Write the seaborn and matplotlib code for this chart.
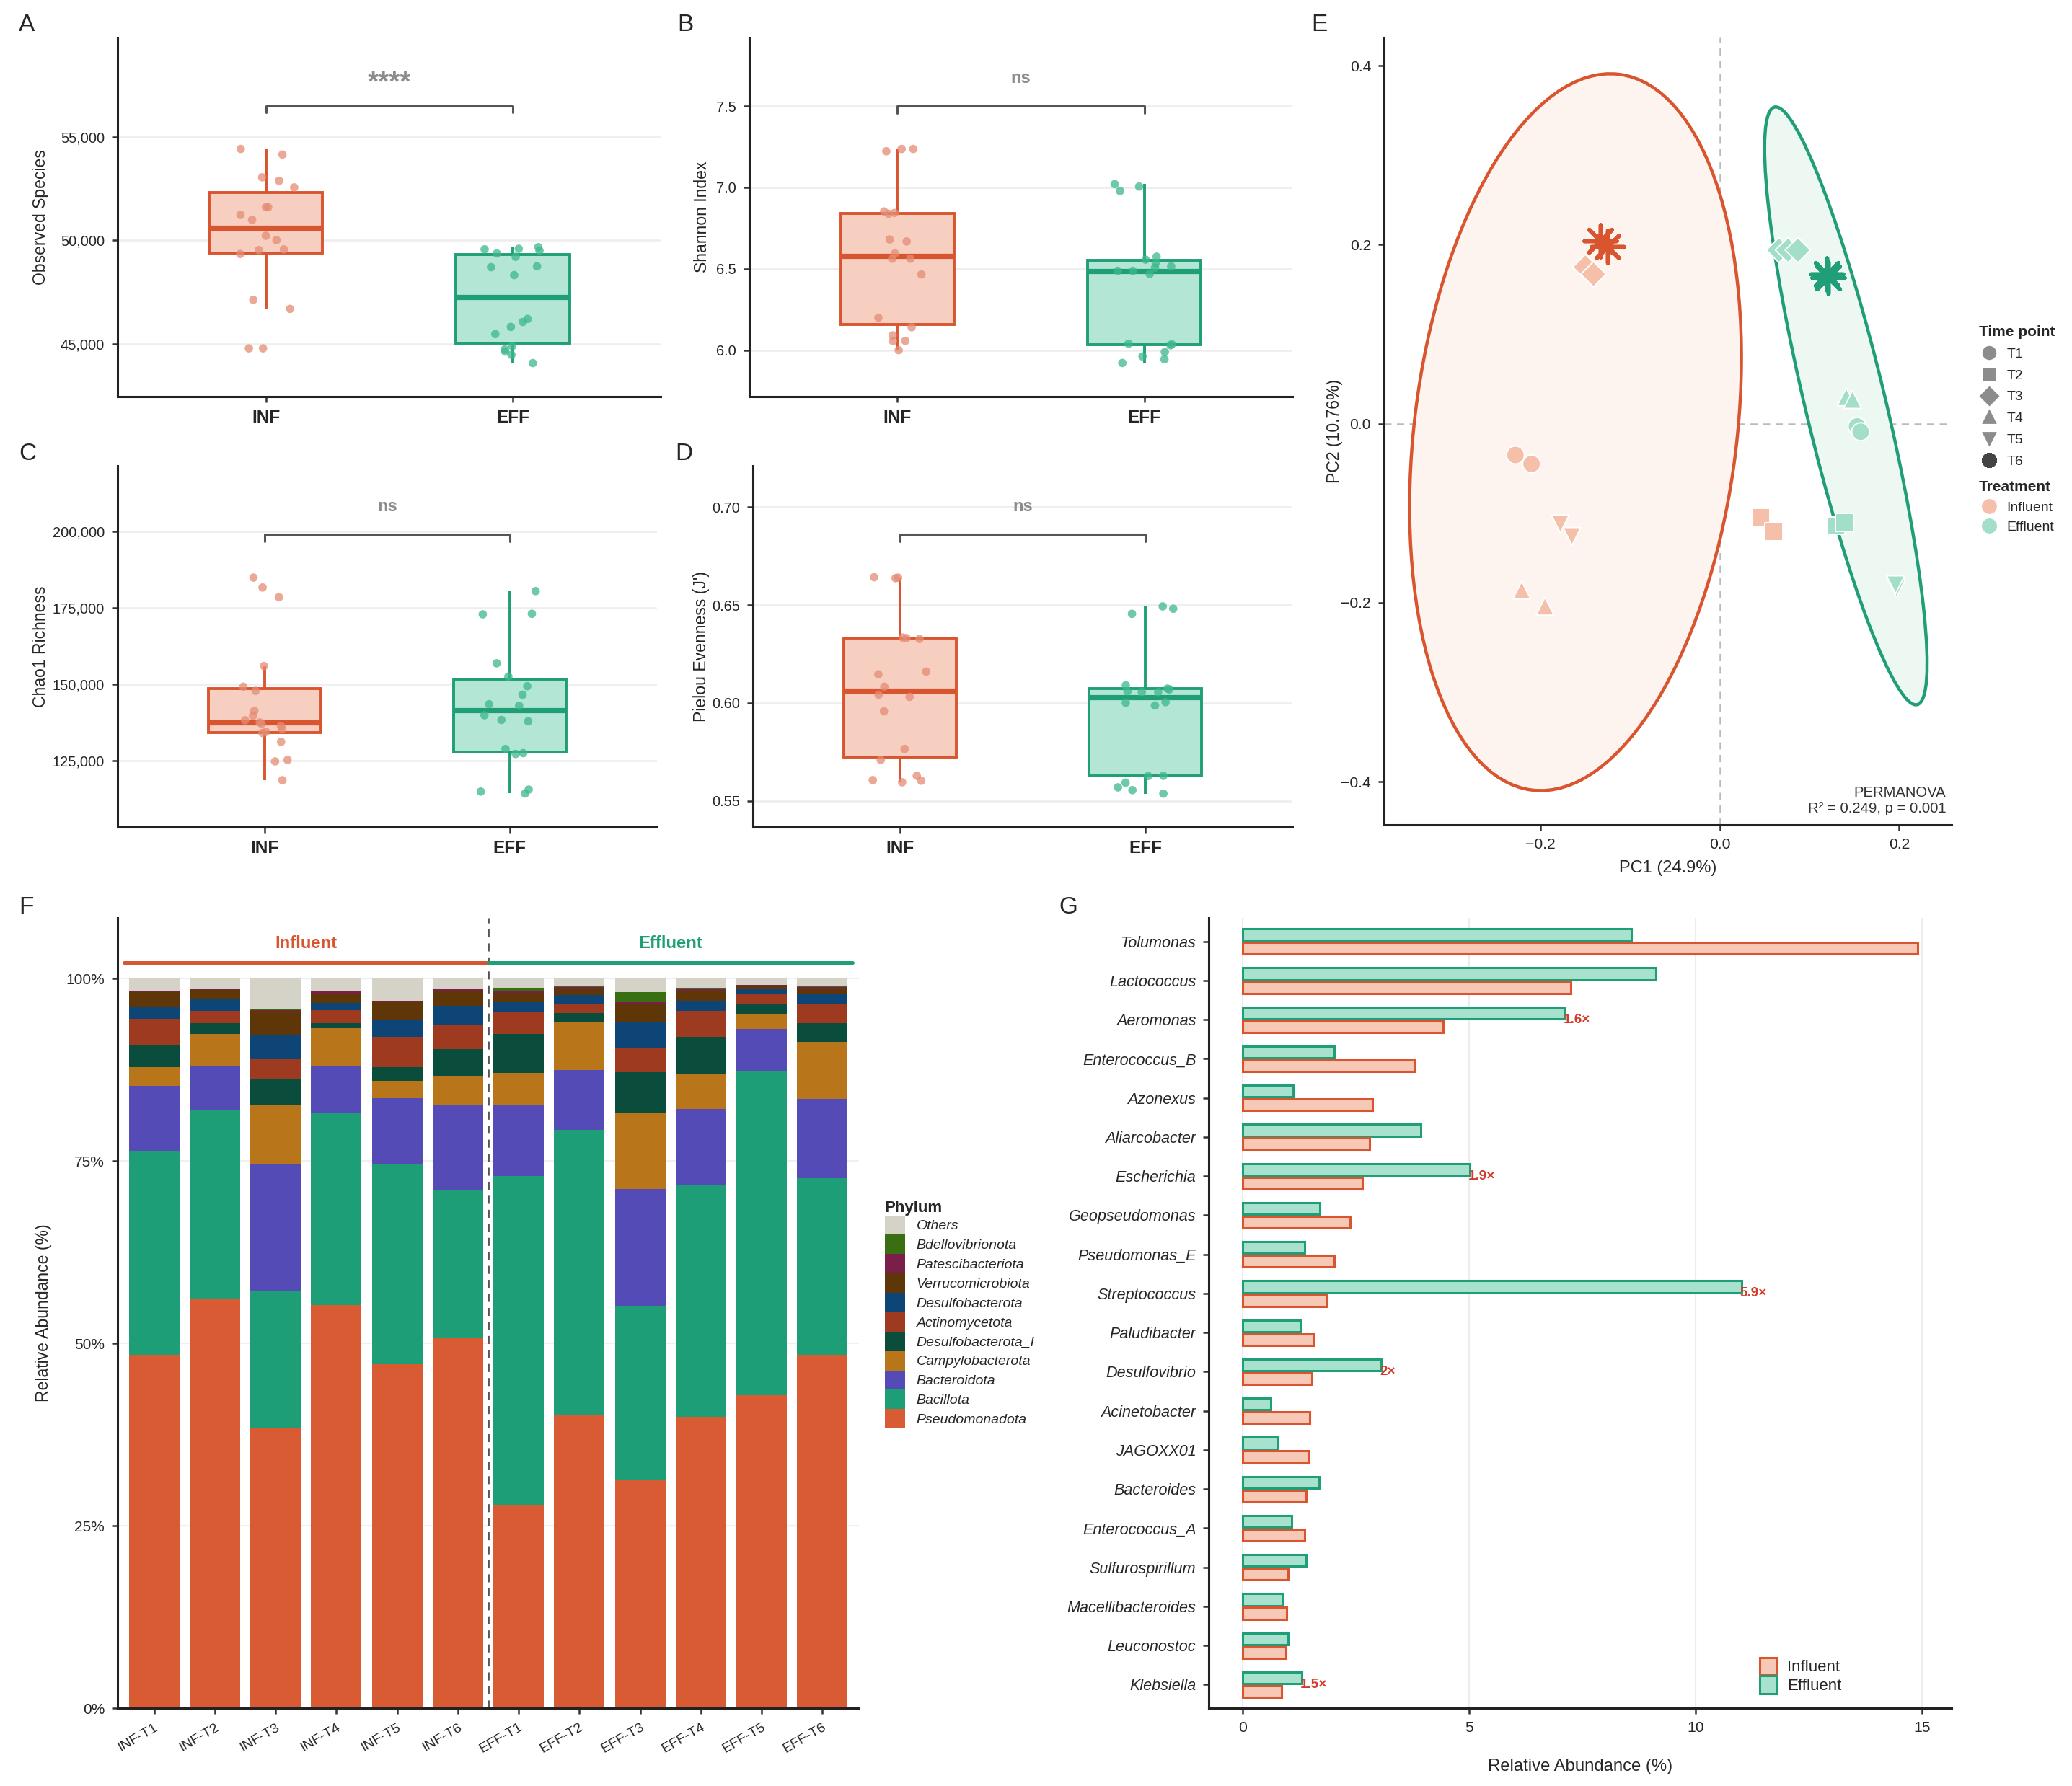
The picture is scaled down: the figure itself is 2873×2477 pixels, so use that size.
import numpy as np
import pandas as pd
import matplotlib
matplotlib.use('Agg')
import matplotlib.pyplot as plt
from matplotlib.patches import Ellipse, Patch
from matplotlib.lines import Line2D
from matplotlib.ticker import FuncFormatter
import seaborn as sns

sns.set_style('ticks')
plt.rcParams['font.family'] = ['Liberation Sans', 'DejaVu Sans']

np.random.seed(7)

# colours
INF_LINE = '#D9552F'
INF_FILL = '#F6CFC0'
INF_PT = '#E58B73'
EFF_LINE = '#1F9E77'
EFF_FILL = '#B3E6D4'
EFF_PT = '#3DB88C'

# ---------------- alpha diversity (A-D) ----------------
groups = ['INF', 'EFF']

observed_inf = [54420, 54150, 53050, 52880, 52560, 51600, 51600, 51230, 50990,
                50220, 50010, 49560, 49530, 49340, 47120, 46680, 44770, 44770]
observed_eff = [49668, 49562, 49589, 49496, 49363, 49204, 48740, 48700, 48316,
                46193, 46048, 45809, 45464, 44881, 44616, 44456, 44721, 44058]

shannon_inf = [7.236, 7.222, 7.236, 6.852, 6.843, 6.838, 6.668, 6.680, 6.594,
               6.562, 6.562, 6.465, 6.199, 6.141, 6.091, 6.056, 6.057, 6.000]
shannon_eff = [7.005, 7.020, 6.978, 6.574, 6.556, 6.535, 6.515, 6.507, 6.487,
               6.487, 6.468, 6.039, 6.036, 6.030, 5.988, 5.961, 5.944, 5.921]

chao1_inf = [184800, 181570, 178400, 155900, 149140, 147780, 141280, 139650, 138180,
             137480, 137030, 136310, 135310, 134400, 134040, 131150, 125200, 124730, 118590]
chao1_eff = [180392, 172802, 172982, 156808, 152470, 149308, 146506, 143434, 142892,
             139820, 138284, 137832, 128796, 127170, 127441, 115513, 114248, 114880]

pielou_inf = [0.6637, 0.6640, 0.6642, 0.6334, 0.6331, 0.6327, 0.6160, 0.6146, 0.6083,
              0.6031, 0.6042, 0.5957, 0.5765, 0.5709, 0.5628, 0.5603, 0.5606, 0.5595]
pielou_eff = [0.6493, 0.6481, 0.6455, 0.6090, 0.6073, 0.6069, 0.6059, 0.6056, 0.6056,
              0.6004, 0.6001, 0.5987, 0.5628, 0.5627, 0.5593, 0.5569, 0.5555, 0.5537]

# ---------------- PCoA (E) ----------------
pc_treat = ['Influent'] * 12 + ['Effluent'] * 13
pc_time = ['T1', 'T1', 'T2', 'T2', 'T3', 'T3', 'T4', 'T4', 'T5', 'T5', 'T6', 'T6',
           'T1', 'T1', 'T2', 'T2', 'T3', 'T3', 'T3', 'T4', 'T4', 'T5', 'T5', 'T6', 'T6']
pc1 = [-0.228, -0.210, 0.046, 0.060, -0.150, -0.141, -0.221, -0.195, -0.178, -0.165, -0.133, -0.125,
       0.153, 0.157, 0.129, 0.139, 0.066, 0.076, 0.087, 0.141, 0.148, 0.197, 0.196, 0.119, 0.121]
pc2 = [-0.035, -0.045, -0.105, -0.121, 0.175, 0.167, -0.186, -0.204, -0.112, -0.126, 0.204, 0.198,
       -0.003, -0.009, -0.114, -0.110, 0.194, 0.194, 0.194, 0.030, 0.027, -0.184, -0.180, 0.167, 0.163]
# 95% ellipses: centre x, centre y, semi-major, semi-minor, angle (deg)
ell_influent = (-0.161, -0.0095, 0.4028, 0.1799, 83.1)
ell_effluent = (0.1405, 0.0199, 0.3432, 0.0447, 103.4)

# ---------------- phylum composition (F) ----------------
samples = ['INF-T1', 'INF-T2', 'INF-T3', 'INF-T4', 'INF-T5', 'INF-T6',
           'EFF-T1', 'EFF-T2', 'EFF-T3', 'EFF-T4', 'EFF-T5', 'EFF-T6']
phyla = ['Pseudomonadota', 'Bacillota', 'Bacteroidota', 'Campylobacterota',
         'Desulfobacterota_I', 'Actinomycetota', 'Desulfobacterota',
         'Verrucomicrobiota', 'Patescibacteriota', 'Bdellovibrionota', 'Others']
pseudomonadota = [48.4, 56.1, 38.4, 55.2, 47.1, 50.8, 27.9, 40.2, 31.2, 39.9, 42.9, 48.4]
bacillota = [27.9, 25.8, 18.8, 26.3, 27.5, 20.2, 45.0, 39.1, 23.9, 31.8, 44.4, 24.2]
bacteroidota = [9.0, 6.2, 17.4, 6.6, 9.0, 11.7, 9.8, 8.2, 16.1, 10.4, 5.8, 10.9]
campylobacterota = [2.6, 4.3, 8.1, 5.1, 2.4, 4.0, 4.4, 6.6, 10.3, 4.8, 2.1, 7.8]
desulfobacterota_i = [3.0, 1.5, 3.5, 0.7, 1.9, 3.6, 5.3, 1.2, 5.7, 5.1, 1.3, 2.6]
actinomycetota = [3.6, 1.7, 2.7, 1.8, 4.1, 3.3, 3.1, 1.2, 3.3, 3.6, 1.3, 2.7]
desulfobacterota = [1.7, 1.6, 3.3, 1.0, 2.3, 2.7, 1.4, 1.2, 3.6, 1.4, 0.7, 1.3]
verrucomicrobiota = [1.9, 1.2, 3.4, 1.2, 2.5, 2.0, 1.1, 0.9, 2.4, 1.3, 0.4, 0.6]
patescibacteriota = [0.2, 0.2, 0.1, 0.3, 0.2, 0.2, 0.3, 0.2, 0.4, 0.2, 0.2, 0.3]
bdellovibrionota = [0.0, 0.0, 0.2, 0.0, 0.0, 0.0, 0.4, 0.2, 1.2, 0.2, 0.0, 0.2]
phylum_colors = ['#D95B33', '#1E9E77', '#554BB6', '#B87519', '#0A4D3D', '#9E3A1F',
                 '#0D4577', '#5E3608', '#7A1F47', '#3A6E12', '#D5D2C8']

# ---------------- top genera (G) ----------------
genera = ['Tolumonas', 'Lactococcus', 'Aeromonas', 'Enterococcus_B', 'Azonexus',
          'Aliarcobacter', 'Escherichia', 'Geopseudomonas', 'Pseudomonas_E',
          'Streptococcus', 'Paludibacter', 'Desulfovibrio', 'Acinetobacter',
          'JAGOXX01', 'Bacteroides', 'Enterococcus_A', 'Sulfurospirillum',
          'Macellibacteroides', 'Leuconostoc', 'Klebsiella']
genus_inf = [14.91, 7.24, 4.42, 3.79, 2.86, 2.79, 2.63, 2.36, 2.01, 1.86,
             1.55, 1.53, 1.47, 1.46, 1.40, 1.36, 1.00, 0.97, 0.95, 0.85]
genus_eff = [8.58, 9.12, 7.11, 2.01, 1.11, 3.92, 5.01, 1.69, 1.36, 11.01,
             1.27, 3.05, 0.62, 0.77, 1.68, 1.07, 1.39, 0.87, 1.00, 1.30]


fig = plt.figure(figsize=(2873 / 200, 2477 / 200), dpi=200)


def style_axes(ax):
    sns.despine(ax=ax)
    for s in ['left', 'bottom']:
        ax.spines[s].set_linewidth(1.1)
        ax.spines[s].set_color('#222222')
    ax.tick_params(length=3, width=0.9, color='#333333')


def alpha_panel(rect, inf, eff, ylabel, ylim, ticks, fmt, bracket_y, drop, label_y,
                sig, sig_size, label_x):
    ax = fig.add_axes(rect)
    df = pd.DataFrame({'group': ['INF'] * len(inf) + ['EFF'] * len(eff),
                       'value': inf + eff})
    for g, fill, line in [('INF', INF_FILL, INF_LINE), ('EFF', EFF_FILL, EFF_LINE)]:
        sns.boxplot(data=df[df['group'] == g], x='group', y='value', order=groups,
                    color=fill, linecolor=line, saturation=1, width=0.46,
                    linewidth=1.4, showfliers=False,
                    medianprops=dict(linewidth=2.6), capprops=dict(linewidth=0), ax=ax)
    sns.stripplot(data=df, x='group', y='value', hue='group', order=groups,
                  palette={'INF': INF_PT, 'EFF': EFF_PT}, jitter=0.12, size=4.2,
                  alpha=0.75, legend=False, ax=ax)
    ax.set_xlim(-0.6, 1.6)
    ax.set_ylim(*ylim)
    ax.set_yticks(ticks)
    ax.yaxis.set_major_formatter(FuncFormatter(fmt))
    ax.yaxis.grid(True, color='#EDEDED', lw=0.9)
    ax.set_axisbelow(True)
    ax.set_xlabel('')
    ax.set_ylabel(ylabel, fontsize=8.3)
    ax.yaxis.set_label_coords(label_x, 0.5)
    ax.tick_params(axis='y', labelsize=7.2)
    for t in ax.get_xticklabels():
        t.set_fontsize(8.8)
        t.set_fontweight('bold')
    ax.plot([0, 0, 1, 1], [bracket_y - drop, bracket_y, bracket_y, bracket_y - drop],
            color='#555555', lw=1.1)
    ax.text(0.5, label_y, sig, ha='center', va='center', color='#8C8C8C',
            fontsize=sig_size, fontweight='bold')
    style_axes(ax)
    return ax


thousands = lambda v, p: f'{v:,.0f}'
alpha_panel([0.0568, 0.778, 0.2622, 0.201], observed_inf, observed_eff, 'Observed Species',
            (42440, 59815), [45000, 50000, 55000], thousands, 56499, 330, 57600, '****', 14,
            -0.126)
alpha_panel([0.3616, 0.778, 0.2621, 0.201], shannon_inf, shannon_eff, 'Shannon Index',
            (5.715, 7.921), [6.0, 6.5, 7.0, 7.5], lambda v, p: f'{v:.1f}', 7.5, 0.042, 7.672, 'ns', 8.5,
            -0.072)
alpha_panel([0.0568, 0.537, 0.2602, 0.202], chao1_inf, chao1_eff, 'Chao1 Richness',
            (103315, 221235), [125000, 150000, 175000, 200000], thousands, 198916, 2260, 208130, 'ns', 8.5,
            -0.127)
alpha_panel([0.3635, 0.537, 0.2602, 0.202], pielou_inf, pielou_eff, "Pielou Evenness (J')",
            (0.5367, 0.7209), [0.55, 0.60, 0.65, 0.70], lambda v, p: f'{v:.2f}', 0.6860, 0.0035, 0.7004, 'ns', 8.5,
            -0.081)

# ---------------- E ----------------
axE = fig.add_axes([0.668, 0.538, 0.274, 0.441])
for (cx, cy, a, b, ang), face, edge in [(ell_influent, '#FDF4F0', INF_LINE),
                                        (ell_effluent, '#EDF8F3', EFF_LINE)]:
    axE.add_patch(Ellipse((cx, cy), 2 * a, 2 * b, angle=ang, facecolor=face,
                          edgecolor=edge, lw=1.6, zorder=1))
axE.axhline(0, color='#BBBBBB', ls=(0, (4, 3)), lw=0.9, zorder=0)
axE.axvline(0, color='#BBBBBB', ls=(0, (4, 3)), lw=0.9, zorder=0)

pc = pd.DataFrame({'treat': pc_treat, 'time': pc_time, 'pc1': pc1, 'pc2': pc2})
markers = {'T1': 'o', 'T2': 's', 'T3': 'D', 'T4': '^', 'T5': 'v'}
light = {'Influent': '#F5BFAA', 'Effluent': '#A2DEC8'}
dark = {'Influent': INF_LINE, 'Effluent': EFF_LINE}
sns.scatterplot(data=pc[pc['time'] != 'T6'], x='pc1', y='pc2', hue='treat', style='time',
                markers=markers, palette=light, s=80, edgecolor='white', linewidth=0.7,
                legend=False, ax=axE, zorder=3)
for tr in ['Influent', 'Effluent']:
    sub = pc[(pc['time'] == 'T6') & (pc['treat'] == tr)]
    axE.scatter(sub['pc1'], sub['pc2'], marker=(8, 2, 0), s=260, color=dark[tr],
                linewidths=2.0, zorder=4)
axE.set_xlim(-0.3745, 0.2587)
axE.set_ylim(-0.4486, 0.4315)
axE.set_xticks([-0.2, 0.0, 0.2])
axE.set_yticks([-0.4, -0.2, 0.0, 0.2, 0.4])
axE.xaxis.set_major_formatter(FuncFormatter(lambda v, p: f'{v:.1f}'.replace('-', '\u2212')))
axE.yaxis.set_major_formatter(FuncFormatter(lambda v, p: f'{v:.1f}'.replace('-', '\u2212')))
axE.tick_params(labelsize=7.6)
axE.set_xlabel('PC1 (24.9%)', fontsize=8.5)
axE.set_ylabel('PC2 (10.76%)', fontsize=8.3)
axE.yaxis.set_label_coords(-0.073, 0.5)
axE.text(0.99, 0.012, 'PERMANOVA\nR\u00b2 = 0.249, p = 0.001', transform=axE.transAxes,
         ha='right', va='bottom', multialignment='right', fontsize=7.3, color='#333333')
style_axes(axE)

time_handles = [Line2D([], [], marker=m, ls='', color='#8C8C8C', markersize=6)
                for m in markers.values()]
time_handles.append(Line2D([], [], marker=(8, 2, 0), ls='', color='#444444',
                           markersize=7.5, markeredgewidth=2.2))
fig.legend(time_handles, ['T1', 'T2', 'T3', 'T4', 'T5', 'T6'], title='Time point',
           loc='upper left', bbox_to_anchor=(0.955, 0.818), frameon=False,
           fontsize=7, title_fontproperties={'weight': 'bold', 'size': 7.5},
           alignment='left', labelspacing=0.63, handletextpad=0.5, handlelength=1.5,
           borderaxespad=0, borderpad=0)
treat_handles = [Line2D([], [], marker='o', ls='', color=light[t], markersize=6.5)
                 for t in ['Influent', 'Effluent']]
fig.legend(treat_handles, ['Influent', 'Effluent'], title='Treatment', loc='upper left',
           bbox_to_anchor=(0.955, 0.731), frameon=False, fontsize=7,
           title_fontproperties={'weight': 'bold', 'size': 7.5}, alignment='left',
           labelspacing=0.5, handletextpad=0.5, handlelength=1.5,
           borderaxespad=0, borderpad=0)

# ---------------- F ----------------
axF = fig.add_axes([0.0568, 0.0436, 0.3577, 0.4424])
layers = [pseudomonadota, bacillota, bacteroidota, campylobacterota, desulfobacterota_i,
          actinomycetota, desulfobacterota, verrucomicrobiota, patescibacteriota,
          bdellovibrionota]
others = 100 - np.sum(layers, axis=0)
layers.append(list(others))
x = np.arange(len(samples))
bottom = np.zeros(len(samples))
for name, vals, col in zip(phyla, layers, phylum_colors):
    axF.bar(x, vals, bottom=bottom, width=0.83, color=col, label=name, linewidth=0)
    bottom += np.array(vals)
axF.set_xlim(-0.6, 11.6)
axF.set_ylim(0, 108.3)
axF.set_yticks([0, 25, 50, 75, 100])
axF.set_yticklabels(['0%', '25%', '50%', '75%', '100%'], fontsize=7.5)
axF.set_xticks(x)
axF.set_xticklabels(samples, rotation=30, ha='right', rotation_mode='anchor', fontsize=7)
axF.yaxis.grid(True, color='#F0F0F0', lw=0.8)
axF.set_axisbelow(True)
axF.set_ylabel('Relative Abundance (%)', fontsize=8.3)
axF.yaxis.set_label_coords(-0.089, 0.5)
axF.axvline(5.5, color='#555555', ls=(0, (4, 3)), lw=1.0)
axF.plot([-0.5, 5.5], [102.2, 102.2], color=INF_LINE, lw=1.8)
axF.plot([5.5, 11.5], [102.2, 102.2], color=EFF_LINE, lw=1.8)
axF.text(2.5, 104.8, 'Influent', ha='center', va='center', color=INF_LINE,
         fontsize=8.6, fontweight='bold')
axF.text(8.5, 104.8, 'Effluent', ha='center', va='center', color=EFF_LINE,
         fontsize=8.6, fontweight='bold')
style_axes(axF)

handles = [Patch(facecolor=c, edgecolor='none') for c in phylum_colors][::-1]
fig.legend(handles, phyla[::-1], title='Phylum', loc='upper left',
           bbox_to_anchor=(0.427, 0.328), frameon=False,
           prop={'style': 'italic', 'size': 7},
           title_fontproperties={'weight': 'bold', 'size': 8}, alignment='left',
           handlelength=1.45, handleheight=1.75, labelspacing=0, handletextpad=0.8,
           borderaxespad=0, borderpad=0)

# ---------------- G ----------------
axG = fig.add_axes([0.5835, 0.0436, 0.3585, 0.4424])
gdf = pd.DataFrame({'genus': genera * 2,
                    'value': genus_eff + genus_inf,
                    'treat': ['Effluent'] * len(genera) + ['Influent'] * len(genera)})
sns.barplot(data=gdf, y='genus', x='value', hue='treat', order=genera,
            hue_order=['Effluent', 'Influent'],
            palette={'Effluent': '#A8E2CE', 'Influent': '#F6C8B6'}, saturation=1,
            width=0.7, gap=0.15, linewidth=1.1, errorbar=None, legend=False, ax=axG)
for cont, edge in zip(axG.containers, [EFF_LINE, INF_LINE]):
    for bar in cont:
        bar.set_edgecolor(edge)
for i, (e, v) in enumerate(zip(genus_eff, genus_inf)):
    fold = e / v
    if fold >= 1.5:
        lab = f'{fold:.1f}'.rstrip('0').rstrip('.') + '\u00d7'
        axG.text(e - 0.03, i, lab, ha='left', va='center', color='#D63A2A',
                 fontsize=6.8, fontweight='bold')
axG.set_xlim(-0.75, 15.66)
axG.set_ylim(19.6, -0.6)
axG.set_xticks([0, 5, 10, 15])
axG.xaxis.grid(True, color='#EDEDED', lw=0.8)
axG.set_axisbelow(True)
axG.set_ylabel('')
axG.set_xlabel('Relative Abundance (%)', fontsize=8.6, labelpad=12)
for t in axG.get_yticklabels():
    t.set_style('italic')
    t.set_fontsize(7.8)
axG.tick_params(axis='x', labelsize=7.6)
style_axes(axG)
g_handles = [Patch(facecolor='#F6C8B6', edgecolor=INF_LINE, lw=1.1),
             Patch(facecolor='#A8E2CE', edgecolor=EFF_LINE, lw=1.1)]
axG.legend(g_handles, ['Influent', 'Effluent'], loc='lower left',
           bbox_to_anchor=(0.722, 0.0), frameon=False, prop={'size': 8},
           handlelength=1.1, handleheight=1.3, labelspacing=0.05, handletextpad=0.6)

# panel letters
for letter, (lx, ly) in zip('ABCDEFG', [(0.009, 0.986), (0.327, 0.986), (0.009, 0.746),
                                        (0.326, 0.746), (0.633, 0.986), (0.009, 0.492),
                                        (0.511, 0.492)]):
    fig.text(lx, ly, letter, fontsize=12, ha='left', va='center')

fig.savefig('out.png', dpi=200)
